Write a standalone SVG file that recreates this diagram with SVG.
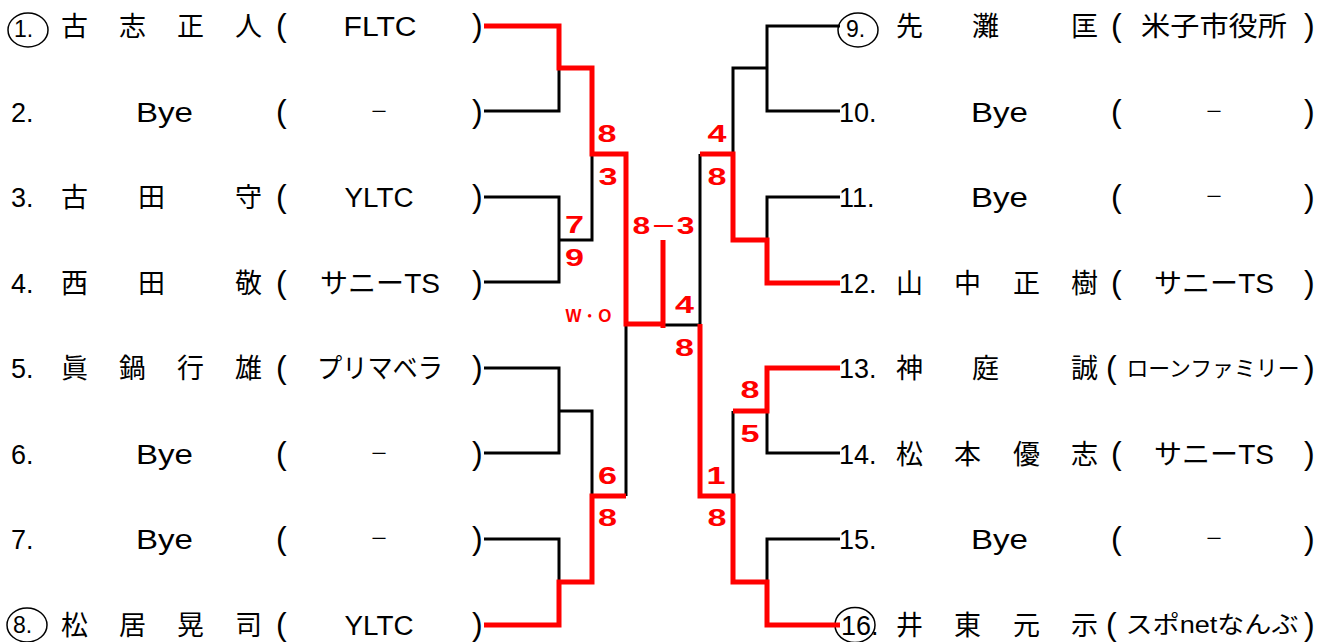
<svg xmlns="http://www.w3.org/2000/svg" width="1332" height="642" viewBox="0 0 1332 642">
<style>
.n{font-family:"Liberation Sans","Noto Sans CJK JP",sans-serif;font-size:27px;fill:#000}
.c{font-family:"Liberation Sans",sans-serif;font-size:23px;fill:#000}
.j{font-family:"Noto Sans CJK JP",sans-serif;font-size:27px;fill:#000}
.o{font-family:"Liberation Sans","Noto Sans CJK JP",sans-serif;font-size:27px;fill:#000;text-anchor:middle}
.d{font-family:"Noto Sans CJK JP",sans-serif;font-size:18px;fill:#000;text-anchor:middle}
.p{font-family:"Liberation Sans",sans-serif;font-size:32px;fill:#000}
.ring{fill:none;stroke:#000;stroke-width:1.5}
.bk{fill:none;stroke:#000;stroke-width:3}
.rd{fill:none;stroke:#f00;stroke-width:5}
.s{font-family:"Liberation Sans",sans-serif;font-weight:bold;font-size:24px;fill:#f00;text-anchor:middle}
</style>

<g id="p1"><ellipse class="ring" cx="28" cy="30" rx="20" ry="17"/><text class="c" x="14" y="37">1.</text><text class="j" y="36"><tspan x="61">古</tspan><tspan x="119">志</tspan><tspan x="177">正</tspan><tspan x="235">人</tspan></text><text class="p" x="276" y="36">(</text><text class="o" x="380" y="36" textLength="73" lengthAdjust="spacingAndGlyphs">FLTC</text><text class="p" x="472" y="36">)</text></g>
<g id="p2"><text class="n" x="11" y="121.5">2.</text><text class="n" x="136" y="121.5" textLength="57" lengthAdjust="spacingAndGlyphs">Bye</text><text class="p" x="276" y="121.5">(</text><text class="d" x="379" y="117.5">－</text><text class="p" x="472" y="121.5">)</text></g>
<g id="p3"><text class="n" x="11" y="207">3.</text><text class="j" y="207"><tspan x="61">古</tspan><tspan x="138">田</tspan><tspan x="235">守</tspan></text><text class="p" x="276" y="207">(</text><text class="o" x="379" y="207" textLength="69" lengthAdjust="spacingAndGlyphs">YLTC</text><text class="p" x="472" y="207">)</text></g>
<g id="p4"><text class="n" x="11" y="292.5">4.</text><text class="j" y="292.5"><tspan x="61">西</tspan><tspan x="138">田</tspan><tspan x="235">敬</tspan></text><text class="p" x="276" y="292.5">(</text><text class="o" x="380" y="292.5" textLength="120" lengthAdjust="spacingAndGlyphs">サニーTS</text><text class="p" x="472" y="292.5">)</text></g>
<g id="p5"><text class="n" x="11" y="378">5.</text><text class="j" y="378"><tspan x="61">眞</tspan><tspan x="119">鍋</tspan><tspan x="177">行</tspan><tspan x="235">雄</tspan></text><text class="p" x="276" y="378">(</text><text class="o" x="380" y="378" textLength="126" lengthAdjust="spacingAndGlyphs">プリマベラ</text><text class="p" x="472" y="378">)</text></g>
<g id="p6"><text class="n" x="11" y="463.5">6.</text><text class="n" x="136" y="463.5" textLength="57" lengthAdjust="spacingAndGlyphs">Bye</text><text class="p" x="276" y="463.5">(</text><text class="d" x="379" y="459.5">－</text><text class="p" x="472" y="463.5">)</text></g>
<g id="p7"><text class="n" x="11" y="549">7.</text><text class="n" x="136" y="549" textLength="57" lengthAdjust="spacingAndGlyphs">Bye</text><text class="p" x="276" y="549">(</text><text class="d" x="379" y="545">－</text><text class="p" x="472" y="549">)</text></g>
<g id="p8"><ellipse class="ring" cx="27" cy="625" rx="20" ry="17"/><text class="c" x="13" y="633">8.</text><text class="j" y="634.5"><tspan x="61">松</tspan><tspan x="119">居</tspan><tspan x="177">晃</tspan><tspan x="235">司</tspan></text><text class="p" x="276" y="634.5">(</text><text class="o" x="379" y="634.5" textLength="69" lengthAdjust="spacingAndGlyphs">YLTC</text><text class="p" x="472" y="634.5">)</text></g>

<g id="p9"><ellipse class="ring" cx="858" cy="30" rx="20" ry="17"/><text class="c" x="846" y="37">9.</text><text class="j" y="36"><tspan x="896">先</tspan><tspan x="972">灘</tspan><tspan x="1071">匡</tspan></text><text class="p" x="1111" y="36">(</text><text class="o" x="1214" y="36" textLength="146" lengthAdjust="spacingAndGlyphs">米子市役所</text><text class="p" x="1304" y="36">)</text></g>
<g id="p10"><text class="n" x="839" y="121.5">10.</text><text class="n" x="971" y="121.5" textLength="57" lengthAdjust="spacingAndGlyphs">Bye</text><text class="p" x="1111" y="121.5">(</text><text class="d" x="1214" y="117.5">－</text><text class="p" x="1304" y="121.5">)</text></g>
<g id="p11"><text class="n" x="839" y="207">11.</text><text class="n" x="971" y="207" textLength="57" lengthAdjust="spacingAndGlyphs">Bye</text><text class="p" x="1111" y="207">(</text><text class="d" x="1214" y="203">－</text><text class="p" x="1304" y="207">)</text></g>
<g id="p12"><text class="n" x="839" y="292.5">12.</text><text class="j" y="292.5"><tspan x="896">山</tspan><tspan x="954">中</tspan><tspan x="1013">正</tspan><tspan x="1071">樹</tspan></text><text class="p" x="1111" y="292.5">(</text><text class="o" x="1214" y="292.5" textLength="120" lengthAdjust="spacingAndGlyphs">サニーTS</text><text class="p" x="1304" y="292.5">)</text></g>
<g id="p13"><text class="n" x="839" y="378">13.</text><text class="j" y="378"><tspan x="896">神</tspan><tspan x="972">庭</tspan><tspan x="1071">誠</tspan></text><text class="p" x="1106" y="378">(</text><text class="o" x="1213" y="376" style="font-size:22px" textLength="173" lengthAdjust="spacingAndGlyphs">ローンファミリー</text><text class="p" x="1304" y="378">)</text></g>
<g id="p14"><text class="n" x="839" y="463.5">14.</text><text class="j" y="463.5"><tspan x="896">松</tspan><tspan x="954">本</tspan><tspan x="1013">優</tspan><tspan x="1071">志</tspan></text><text class="p" x="1111" y="463.5">(</text><text class="o" x="1214" y="463.5" textLength="120" lengthAdjust="spacingAndGlyphs">サニーTS</text><text class="p" x="1304" y="463.5">)</text></g>
<g id="p15"><text class="n" x="839" y="549">15.</text><text class="n" x="971" y="549" textLength="57" lengthAdjust="spacingAndGlyphs">Bye</text><text class="p" x="1111" y="549">(</text><text class="d" x="1214" y="545">－</text><text class="p" x="1304" y="549">)</text></g>
<g id="p16"><ellipse class="ring" cx="855" cy="625" rx="20" ry="17.5"/><text class="n" x="841" y="634.5">16.</text><text class="j" y="634.5"><tspan x="896">井</tspan><tspan x="954">東</tspan><tspan x="1013">元</tspan><tspan x="1071">示</tspan></text><text class="p" x="1106" y="634.5">(</text><text class="o" x="1212" y="633" style="font-size:24px" textLength="173" lengthAdjust="spacingAndGlyphs">スポnetなんぶ</text><text class="p" x="1304" y="634.5">)</text></g>

<g id="connectors">
<path class="bk" d="M484,111H559V68M484,197H559V282H484M559,240H592V154M484,368H559V453H484M559,411H592V496M484,539H559V582M626,324V496M663,325H700"/>
<path class="bk" d="M840,26H767V111H840M767,68H733V154M700,154V324M840,197H767V240M767,411V453H840M733,411V496M840,539H767V582"/>
<path class="rd" d="M484,26H559V68H592V154H626V324H663M663,240V328"/>
<path class="rd" d="M484,625H559V582H592V496H626"/>
<path class="rd" d="M840,283H767V240H733V154H700"/>
<path class="rd" d="M840,368H767V411H733"/>
<path class="rd" d="M840,625H767V582H733V496H700V324"/>
</g>

<g id="scores">
<text class="s" x="607" y="142" textLength="19" lengthAdjust="spacingAndGlyphs">8</text>
<text class="s" x="608" y="185" textLength="19" lengthAdjust="spacingAndGlyphs">3</text>
<text class="s" x="574.5" y="233" textLength="19" lengthAdjust="spacingAndGlyphs">7</text>
<text class="s" x="574.5" y="266" textLength="19" lengthAdjust="spacingAndGlyphs">9</text>
<text class="s" x="663.5" y="234" textLength="62" lengthAdjust="spacingAndGlyphs">8<tspan style="font-family:'Noto Sans CJK JP',sans-serif;font-size:20px">－</tspan>3</text>
<text class="s" x="588.5" y="322" style="font-size:18px" textLength="46" lengthAdjust="spacingAndGlyphs">W・O</text>
<text class="s" x="684.5" y="313" textLength="19" lengthAdjust="spacingAndGlyphs">4</text>
<text class="s" x="684.5" y="356" textLength="19" lengthAdjust="spacingAndGlyphs">8</text>
<text class="s" x="717" y="142" textLength="19" lengthAdjust="spacingAndGlyphs">4</text>
<text class="s" x="717" y="185" textLength="19" lengthAdjust="spacingAndGlyphs">8</text>
<text class="s" x="607.5" y="484" textLength="19" lengthAdjust="spacingAndGlyphs">6</text>
<text class="s" x="607.5" y="526" textLength="19" lengthAdjust="spacingAndGlyphs">8</text>
<text class="s" x="750" y="398" textLength="19" lengthAdjust="spacingAndGlyphs">8</text>
<text class="s" x="750" y="442" textLength="19" lengthAdjust="spacingAndGlyphs">5</text>
<text class="s" x="716" y="484" textLength="19" lengthAdjust="spacingAndGlyphs">1</text>
<text class="s" x="717" y="526" textLength="19" lengthAdjust="spacingAndGlyphs">8</text>
</g>
</svg>
